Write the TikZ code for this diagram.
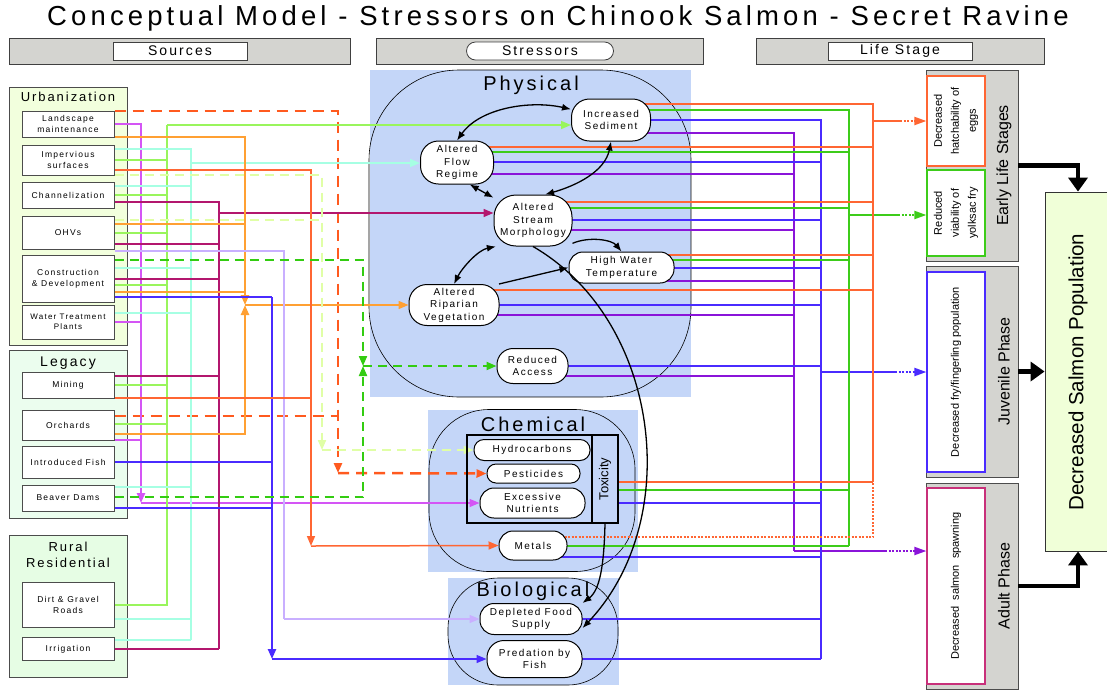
\documentclass[tikz,border=0pt]{standalone}
\usepackage{fontspec}
\setmainfont{Liberation Sans}
\newfontfamily\widefont[LetterSpace=15]{Liberation Sans}
\usepackage{tikz}
\usetikzlibrary{positioning,arrows.meta}

\definecolor{dashred}{HTML}{FF5A1F}
\definecolor{cmag}{HTML}{D455F5}
\definecolor{clime}{HTML}{99F55C}
\definecolor{corng}{HTML}{FFA033}
\definecolor{caqua}{HTML}{A6FFE3}
\definecolor{cred}{HTML}{FF6633}
\definecolor{cpale}{HTML}{E0FFA6}
\definecolor{ccrim}{HTML}{B3176E}
\definecolor{clav}{HTML}{C9AFFF}
\definecolor{cgdash}{HTML}{33CC11}
\definecolor{cblue}{HTML}{4A2BFF}
\definecolor{cgrn}{HTML}{3DCC1A}
\definecolor{cpurp}{HTML}{8A14D9}
\definecolor{panelblue}{HTML}{C4D6F8}
\definecolor{greybar}{HTML}{D4D4D0}
\definecolor{urbfill}{HTML}{F2FFDD}
\definecolor{legfill}{HTML}{EBFDEE}
\definecolor{rurfill}{HTML}{E6FDE4}
\definecolor{popfill}{HTML}{F0FFD8}
\definecolor{spawnpink}{HTML}{C8307A}

\pgfdeclarelayer{back}
\pgfdeclarelayer{lines}
\pgfsetlayers{back,lines,main}

\begin{document}
\begin{tikzpicture}[x=1pt, y=-1pt,
    srcbox/.style={draw=black!70, line width=1pt, fill=white, minimum width=92pt, inner sep=0pt, align=center, font=\widefont\fontsize{8.5}{11}\selectfont},
    grpbox/.style={draw=black!70, line width=0.8pt, minimum width=118pt},
    grptitle/.style={align=center, font=\widefont\fontsize{13}{16}\selectfont},
    hdrbar/.style={draw=black!75, fill=greybar, line width=0.8pt, minimum height=26pt},
    hdrtxt/.style={draw=black!75, fill=white, line width=0.8pt, minimum height=18pt, inner sep=0pt, font=\widefont\fontsize{14}{16}\selectfont},
    panelbg/.style={fill=panelblue, inner sep=0pt},
    grpring/.style={draw=black, line width=0.6pt, inner sep=0pt},
    paneltitle/.style={font=\widefont\fontsize{20}{24}\selectfont},
    stress/.style={draw=black, line width=1pt, fill=white, inner sep=0pt, align=center, rounded corners=14pt, font=\widefont\fontsize{10}{12.5}\selectfont},
    stagebar/.style={draw=black!70, fill=greybar, line width=0.8pt, minimum width=92pt},
    stagetxt/.style={rotate=90, font=\fontsize{16}{19}\selectfont},
    effect/.style={rotate=90, fill=white, line width=1.2pt, minimum height=58pt, inner sep=1pt, align=center, font=\fontsize{11}{17}\selectfont},
    con/.style={line width=1.5pt},
    trunk/.style={line width=2.3pt},
    bigdash/.style={line width=2.5pt, dash pattern=on 11pt off 7pt},
    meddash/.style={line width=2pt, dash pattern=on 9pt off 6pt},
    dotcon/.style={line width=2pt, dash pattern=on 2pt off 1.5pt},
    ctip/.style={-{Triangle[length=10pt,width=8pt]}},
    ltip/.style={-{Triangle[length=12pt,width=8pt]}},
    blk/.style={draw=black, line width=1.3pt},
    bitip/.style={{Latex[length=9pt,width=7pt]}-{Latex[length=9pt,width=7pt]}},
    onetip/.style={-{Latex[length=9pt,width=7pt]}},
    lsarrow/.style={line width=4.5pt, -{Triangle[length=14pt,width=19pt]}}]
    \useasboundingbox (0,0) rectangle (1107,689);

    % Title
    \node[font=\widefont\fontsize{27.5}{32}\selectfont] (title) at (558,18) {Conceptual Model - Stressors on Chinook Salmon - Secret Ravine};

    % Column headers
    \node[hdrbar, minimum width=341pt] (hsrc) at (179.5,51) {};
    \node[hdrtxt, minimum width=134pt] (hsrct) at (180,51) {Sources};
    \node[hdrbar, minimum width=327pt] (hstr) at (539.5,51) {};
    \node[hdrtxt, rounded corners=9pt, minimum width=147pt] (hstrt) at (540,51) {Stressors};
    \node[hdrbar, minimum width=288pt] (hlife) at (900,51) {};
    \node[hdrtxt, minimum width=144pt] (hlifet) at (900,51) {Life Stage};

    % Backgrounds
    \begin{pgfonlayer}{back}
        \node[grpbox, fill=urbfill, minimum height=258pt] (urb) at (68,216) {};
        \node[grpbox, fill=legfill, minimum height=168pt] (leg) at (68,434) {};
        \node[grpbox, fill=rurfill, minimum height=142pt] (rur) at (68,606) {};
        \node[panelbg, minimum width=321pt, minimum height=327pt] (phys) at (530.5,233.5) {};
        \node[grpring, rounded corners=90pt, minimum width=322pt, minimum height=327pt] (physr) at (530,233.5) {};
        \node[panelbg, minimum width=210pt, minimum height=162pt] (chem) at (533,491) {};
        \node[grpring, rounded corners=60pt, minimum width=206pt, minimum height=162pt] (chemr) at (532,490.5) {};
        \node[panelbg, minimum width=171pt, minimum height=107pt] (bio) at (533.5,631.5) {};
        \node[grpring, rounded corners=50pt, minimum width=170pt, minimum height=107pt] (bior) at (533,631.5) {};
        \node[stagebar, minimum height=191pt] (early) at (972,165.5) {};
        \node[stagebar, minimum height=211pt] (juv) at (972,371.5) {};
        \node[stagebar, minimum height=206pt] (adult) at (972,586) {};
    \end{pgfonlayer}

    % Sources
    \node[grptitle] (urbt) at (68,97) {Urbanization};
    \node[srcbox, minimum height=26pt] (land) at (68,124) {Landscape\\maintenance};
    \node[srcbox, minimum height=30pt] (imperv) at (68,160) {Impervious\\surfaces};
    \node[srcbox, minimum height=26pt] (chan) at (68,195) {Channelization};
    \node[srcbox, minimum height=33pt] (ohv) at (68,232.5) {OHVs};
    \node[srcbox, minimum height=47pt] (constr) at (68,278.5) {Construction\\\& Development};
    \node[srcbox, minimum height=34pt, font=\widefont\fontsize{8}{10}\selectfont] (wtp) at (68,322) {Water Treatment\\Plants};
    \node[grptitle, font=\widefont\fontsize{14}{16}\selectfont] (legt) at (68,363) {Legacy};
    \node[srcbox, minimum height=26pt] (mining) at (68,385) {Mining};
    \node[srcbox, minimum height=30pt] (orch) at (68,425) {Orchards};
    \node[srcbox, minimum height=32pt] (fish) at (68,462) {Introduced Fish};
    \node[srcbox, minimum height=26pt] (beaver) at (68,498) {Beaver Dams};
    \node[grptitle] (rurt) at (68,555) {Rural\\Residential};
    \node[srcbox, minimum height=45pt] (dirt) at (68,604.5) {Dirt \& Gravel\\Roads};
    \node[srcbox, minimum height=23pt] (irrig) at (68,649) {Irrigation};

    % Stressors
    \node[paneltitle] (physt) at (531,85) {Physical};
    \node[stress, minimum width=79pt, minimum height=42pt, rounded corners=18pt] (sed) at (611,120) {Increased\\Sediment};
    \node[stress, minimum width=73pt, minimum height=43pt, rounded corners=18pt] (flow) at (457,162.5) {Altered\\Flow\\Regime};
    \node[stress, minimum width=78pt, minimum height=51pt, rounded corners=22pt] (morph) at (533,220.5) {Altered\\Stream\\Morphology};
    \node[stress, minimum width=105pt, minimum height=31pt] (temp) at (621.5,267.5) {High Water\\Temperature};
    \node[stress, minimum width=90pt, minimum height=41pt, rounded corners=18pt] (ripar) at (454,305) {Altered\\Riparian\\Vegetation};
    \node[stress, minimum width=71pt, minimum height=35pt, rounded corners=16pt] (access) at (532.5,366) {Reduced\\Access};
    \node[paneltitle] (chemt) at (533,424) {Chemical};
    \node[draw, line width=1.2pt, minimum width=151pt, minimum height=88pt] (toxbox) at (542.5,479) {};
    \node[draw, line width=1.2pt, fill=panelblue, rotate=90, minimum width=88pt, minimum height=26pt, inner sep=0pt, font=\fontsize{13}{15}\selectfont] (tox) at (605,479) {Toxicity};
    \node[stress, minimum width=116pt, minimum height=21pt, rounded corners=10pt] (hydro) at (532,450) {Hydrocarbons};
    \node[stress, minimum width=93pt, minimum height=19pt, rounded corners=9pt] (pest) at (533.5,473.5) {Pesticides};
    \node[stress, minimum width=105pt, minimum height=30pt] (nutr) at (532.5,503) {Excessive\\Nutrients};
    \node[stress, minimum width=68pt, minimum height=29pt] (metals) at (533,545.5) {Metals};
    \node[paneltitle] (biot) at (533,591) {Biological};
    \node[stress, minimum width=102pt, minimum height=31pt] (food) at (531,619) {Depleted Food\\Supply};
    \node[stress, minimum width=95pt, minimum height=37pt, rounded corners=17pt] (pred) at (534.5,659) {Predation by\\Fish};

    % Life stages
    \node[effect, draw=cred, minimum width=90pt] (hatch) at (956,121) {Decreased\\hatchability of\\eggs};
    \node[effect, draw=cgrn, minimum width=86pt] (yolk) at (956,213) {Reduced\\viability of\\yolksac fry};
    \node[effect, draw=cblue, minimum width=200pt] (fry) at (956,372) {Decreased fry/fingerling population};
    \node[effect, draw=spawnpink, minimum width=196pt] (spawn) at (956,586) {Decreased\ \ salmon\ \ spawning};
    \node[stagetxt] (earlyt) at (1004,165.5) {Early Life Stages};
    \node[stagetxt] (juvt) at (1004,371.5) {Juvenile Phase};
    \node[stagetxt] (adultt) at (1004,586) {Adult Phase};
    \node[draw=black!80, line width=0.8pt, fill=popfill, minimum width=75pt, minimum height=359pt] (pop) at (1082.5,371.5) {};
    \node[rotate=90, font=\fontsize{20.5}{24}\selectfont] (popt) at (1078,372) {Decreased Salmon Population};

    % Stage to population
    \draw[lsarrow] (early.east) -| (1078,0 |- pop.north);
    \draw[lsarrow] (juv.east) -- (juv.east -| pop.west);
    \draw[lsarrow] (adult.east) -| (1078,0 |- pop.south);

    % Links among stressors
    \draw[blk, bitip] (flow.north) .. controls (480,108) and (530,100) .. (sed.165);
    \draw[blk, bitip] (sed.south) .. controls (605,172) and (575,186) .. (morph.65);
    \draw[blk, bitip] (flow.300) -- (morph.150);
    \draw[blk, onetip] (morph.-30) .. controls (590,236) and (612,240) .. (temp.north);
    \draw[blk, onetip] (ripar.25) -- (temp.west);
    \draw[blk, bitip] (morph.215) .. controls (478,250) and (462,268) .. (ripar.north);
    \draw[blk, onetip] (morph.south) .. controls (660,320) and (685,520) .. (food.-10);
    \draw[blk, onetip] (tox.west) .. controls (604,565) and (600,590) .. (food.north east);

    \begin{pgfonlayer}{lines}
    % Sources to stressors
    \draw[dashred, bigdash, ctip] (land.east |- 0,111) -| (338,473);
    \draw[dashred, bigdash] (orch.east |- 0,416) -- (338,416);
    \draw[dashred, bigdash, ctip] (338,473) -- (pest.west);

    \draw[cmag, trunk, ctip] (land.east |- 0,124) -| (141,503);
    \draw[cmag, con] (wtp.east |- 0,322) -- (141,322);
    \draw[cmag, con] (orch.east |- 0,440) -- (141,440);
    \draw[cmag, con, ctip] (141,503) -- (nutr.west);

    \draw[clime, trunk] (imperv.east |- 0,160) -| (167,125);
    \draw[clime, con] (chan.east |- 0,195) -- (167,195);
    \draw[clime, con] (ohv.east |- 0,233) -- (167,233);
    \draw[clime, con] (constr.east |- 0,285) -- (167,285);
    \draw[clime, con] (mining.east |- 0,385) -- (167,385);
    \draw[clime, con] (orch.east |- 0,424) -- (167,424);
    \draw[clime, trunk] (dirt.east |- 0,605) -| (167,160);
    \draw[clime, con, ctip] (167,125) -- (sed.west |- 0,125);

    \draw[caqua, trunk] (imperv.east |- 0,149) -| (191,640);
    \draw[caqua, con] (chan.east |- 0,186) -- (191,186);
    \draw[caqua, con] (constr.east |- 0,268) -- (191,268);
    \draw[caqua, con] (wtp.east |- 0,313) -- (191,313);
    \draw[caqua, con] (beaver.east |- 0,487) -- (191,487);
    \draw[caqua, con] (dirt.east |- 0,619) -- (191,619);
    \draw[caqua, con] (irrig.east |- 0,640) -- (191,640);
    \draw[caqua, con, ctip] (191,163) -- (flow.west |- 0,163);

    \draw[ccrim, trunk] (chan.east |- 0,202) -| (219,649);
    \draw[ccrim, con] (ohv.east |- 0,244) -- (219,244);
    \draw[ccrim, con] (constr.east |- 0,279) -- (219,279);
    \draw[ccrim, con] (mining.east |- 0,376) -- (219,376);
    \draw[ccrim, con] (irrig.east) -- (219,649);
    \draw[ccrim, con, ctip] (219,213) -- (morph.west |- 0,213);

    \draw[corng, trunk, ctip] (land.east |- 0,137) -| (245,305);
    \draw[corng, con] (ohv.east |- 0,224) -- (245,224);
    \draw[corng, con] (constr.east |- 0,292) -- (245,292);
    \draw[corng, trunk, ctip] (orch.east |- 0,434) -| (245,305);
    \draw[corng, con, ctip] (245,305) -- (ripar.west);

    \draw[cblue, con] (constr.east |- 0,297) -- (272,297);
    \draw[cblue, trunk] (fish.east) -- (272,462);
    \draw[cblue, con] (beaver.east |- 0,508) -- (272,508);
    \draw[cblue, trunk, ctip] (272,297) -- (272,659);
    \draw[cblue, con, ctip] (272,659) -- (pred.west);

    \draw[clav, con] (ohv.east |- 0,251) -| (284,619);
    \draw[clav, con, ctip] (284,619) -- (food.west);

    \draw[cred, con, ctip] (imperv.east |- 0,170) -| (311,546);
    \draw[cred, con] (mining.east |- 0,398) -- (311,398);
    \draw[cred, con, ctip] (311,546) -- (metals.west);

    \draw[cpale, meddash, ctip] (imperv.east |- 0,175) -| (322,450);
    \draw[cpale, meddash] (ohv.east |- 0,220) -- (322,220);
    \draw[cpale, meddash, ctip] (322,450) -- (hydro.west);

    \draw[cgdash, meddash, ctip] (constr.east |- 0,260) -| (363,366);
    \draw[cgdash, meddash, ctip] (beaver.east |- 0,497) -| (363,366);
    \draw[cgdash, meddash, ctip] (363,366) -- (access.west);

    % Stressors to life stages
    \draw[cpurp, trunk] (sed.center |- 0,133) -| (794,551);
    \draw[cpurp, con] (flow.center |- 0,174) -- (794,174);
    \draw[cpurp, con] (morph.center |- 0,230) -- (794,230);
    \draw[cpurp, con] (temp.center |- 0,281) -- (794,281);
    \draw[cpurp, con] (ripar.center |- 0,315) -- (794,315);
    \draw[cpurp, con] (access.center |- 0,376) -- (794,376);
    \draw[cpurp, con] (794,551) -- (885,551);
    \draw[cpurp, dotcon, ltip] (885,551) -- (spawn.north |- 0,551);

    \draw[cblue, con] (sed.center |- 0,120) -| (821,659);
    \draw[cblue, con] (flow.center |- 0,162) -- (821,162);
    \draw[cblue, con] (morph.center |- 0,220) -- (821,220);
    \draw[cblue, con] (temp.center |- 0,268) -- (821,268);
    \draw[cblue, con] (ripar.center |- 0,305) -- (821,305);
    \draw[cblue, trunk] (access.center |- 0,366) -- (821,366);
    \draw[cblue, con] (tox.center |- 0,503) -- (821,503);
    \draw[cblue, con] (metals.center |- 0,557) -- (821,557);
    \draw[cblue, con] (food.center |- 0,619) -- (821,619);
    \draw[cblue, con] (pred.center |- 0,659) -- (821,659);
    \draw[cblue, con] (821,372) -- (895,372);
    \draw[cblue, dotcon, ltip] (895,372) -- (fry.north);

    \draw[cgrn, con] (sed.center |- 0,110) -| (849,546);
    \draw[cgrn, con] (flow.center |- 0,152) -- (849,152);
    \draw[cgrn, con] (morph.center |- 0,208) -- (849,208);
    \draw[cgrn, con] (temp.center |- 0,260) -- (849,260);
    \draw[cgrn, con] (tox.center |- 0,490) -- (849,490);
    \draw[cgrn, con] (metals.center |- 0,546) -- (849,546);
    \draw[cgrn, con] (849,215) -- (898,215);
    \draw[cgrn, dotcon, ltip] (898,215) -- (yolk.north |- 0,215);

    \draw[cred, con] (sed.center |- 0,104) -| (873,482);
    \draw[cred, con] (flow.center |- 0,147) -- (873,147);
    \draw[cred, con] (morph.center |- 0,202) -- (873,202);
    \draw[cred, con] (temp.center |- 0,255) -- (873,255);
    \draw[cred, con] (ripar.center |- 0,290) -- (873,290);
    \draw[cred, con] (tox.center |- 0,482) -- (873,482);
    \draw[cred, dotcon] (metals.center |- 0,537) -| (873,482);
    \draw[cred, con] (873,121) -- (900,121);
    \draw[cred, dotcon, ltip] (900,121) -- (hatch.north);
    \end{pgfonlayer}
\end{tikzpicture}
\end{document}
